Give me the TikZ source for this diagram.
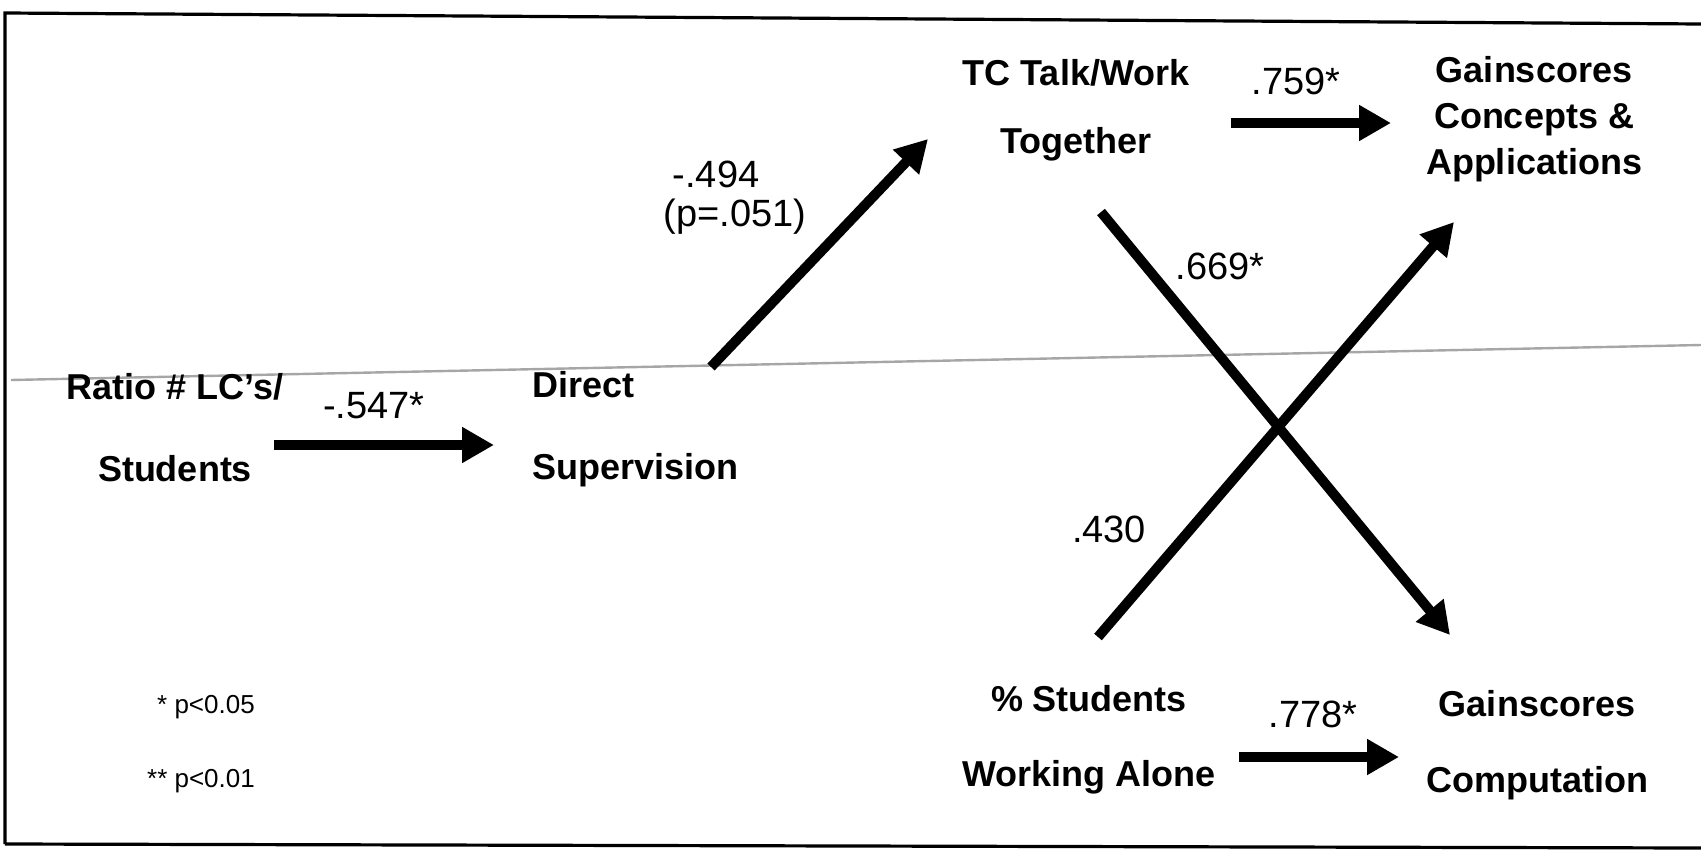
\documentclass[tikz,border=0pt]{standalone}
\usepackage{fontspec}
\setmainfont{Liberation Sans}
\usetikzlibrary{arrows.meta}
\tikzset{
  concept/.style={font=\bfseries\fontsize{18}{#1}\selectfont, inner sep=0pt, align=center},
  coef/.style={font=\fontsize{19}{22}\selectfont, inner sep=0pt},
  note/.style={font=\fontsize{13}{15}\selectfont, inner sep=0pt},
  path/.style={line width=5pt, -{Triangle[length=16pt,width=17pt]}},
  frame/.style={line width=1.6pt, black},
}
\begin{document}
\begin{tikzpicture}[x=0.5pt,y=-0.5pt]
\useasboundingbox (0,0) rectangle (1701,856);
% frame and scan line
\draw[frame] (5,844) -- (5,13) -- (1701,24);
\draw[frame] (5,844) -- (1701,848);
\draw[gray!70, line width=1.2pt] (11,380) -- (1701,345);
% concepts
\node[concept=41] (ratio) at (175,428) {Ratio \# LC's/\\Students};
\node[concept=41, align=left, anchor=west] (direct) at (532,429) {Direct\\Supervision};
\node[concept=34] (talk) at (1076,110) {TC Talk/Work\\Together};
\node[concept=23] (concepts) at (1534,119) {Gainscores\\Concepts \&\\Applications};
\node[concept=37.5] (alone) at (1089,740) {\% Students\\Working Alone};
\node[concept=38] (comp) at (1537,745) {Gainscores\\Computation};
% arrow end points
\coordinate (a1s) at (274,445); \coordinate (a1e) at (494,445);
\coordinate (a2s) at (711,367); \coordinate (a2e) at (928,139);
\coordinate (a3s) at (1231,123); \coordinate (a3e) at (1391,123);
\coordinate (a4s) at (1101,212); \coordinate (a4e) at (1450,635);
\coordinate (a5s) at (1098,637); \coordinate (a5e) at (1454,222);
\coordinate (a6s) at (1239,757); \coordinate (a6e) at (1399,757);
\draw[path] (a1s) -- (a1e);
\draw[path] (a2s) -- (a2e);
\draw[path] (a3s) -- (a3e);
\draw[path] (a4s) -- (a4e);
\draw[path] (a5s) -- (a5e);
\draw[path] (a6s) -- (a6e);
% coefficients
\node[coef] (c1) at (374,406) {-.547*};
\node[coef] (c2) at (716,174) {-.494};
\node[coef] (c2b) at (735,217) {(p=.051)};
\node[coef] (c3) at (1296,81) {.759*};
\node[coef] (c4) at (1220,266) {.669*};
\node[coef] (c5) at (1109,529) {.430};
\node[coef] (c6) at (1313,714) {.778*};
% notes
\node[note] (n1) at (206,707) {* p<0.05};
\node[note] (n2) at (201,781) {** p<0.01};
\end{tikzpicture}
\end{document}
